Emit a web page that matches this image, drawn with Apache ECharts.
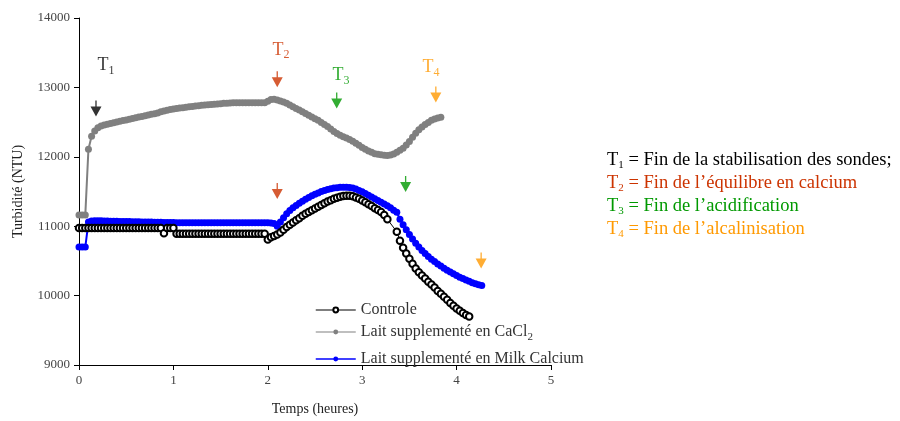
<!DOCTYPE html>
<html>
<head>
<meta charset="utf-8">
<script src="https://cdn.jsdelivr.net/npm/echarts@6/dist/echarts.min.js"></script>
<style>
  html, body { margin: 0; padding: 0; background: #fff; }
  #chart { width: 900px; height: 421px; }
</style>
</head>
<body>
<div id="chart"></div>
<script>
// pas d'echantillonnage : une mesure toutes les 2 minutes
var STEP_H = 2 / 60;

var xTicks = [0, 1, 2, 3, 4, 5];
var yTicks = [9000, 10000, 11000, 12000, 13000, 14000];

// Controle (null = pas de point, ligne continue)
var controle = [
  10975, 10975, 10975, 10975, 10975, 10975, 10975, 10975, 10975, 10975,
  10975, 10975, 10975, 10975, 10975, 10975, 10975, 10975, 10975, 10975,
  10975, 10975, 10975, 10975, 10975, 10975, 10975, 10900, 10975, 10975,
  10975, 10890, 10890, 10890, 10890, 10890, 10890, 10890, 10890, 10890,
  10890, 10890, 10890, 10890, 10890, 10890, 10890, 10890, 10890, 10890,
  10890, 10890, 10890, 10890, 10890, 10890, 10890, 10890, 10890, 10890,
  10810, 10840, 10860, 10880, 10910, 10950, 10990, 11020, 11055, 11085,
  11115, 11150, 11180, 11205, 11230, 11255, 11280, 11305, 11330, 11355,
  11375, 11395, 11410, 11425, 11435, 11440, 11440, 11430, 11415, 11395,
  11370, 11345, 11315, 11290, 11260, 11235, 11205, 11160, 11100, null,
  null, 10920, 10790, 10690, 10605, 10530, 10460, 10390, 10335, 10290,
  10245, 10200, 10160, 10115, 10065, 10025, 9985, 9940, 9895, 9855,
  9815, 9780, 9750, 9720, 9700
];

// Lait supplemente en CaCl2
var cacl2 = [
  11160, 11160, 11160, 12110, 12295, 12370, 12420, 12445, 12460, 12470,
  12480, 12490, 12500, 12512, 12522, 12532, 12542, 12552, 12562, 12572,
  12582, 12592, 12602, 12612, 12622, 12632, 12650, 12660, 12670, 12680,
  12688, 12695, 12702, 12708, 12714, 12720, 12726, 12731, 12736, 12741,
  12746, 12750, 12754, 12758, 12762, 12766, 12770, 12773, 12776, 12778,
  12778, 12778, 12778, 12778, 12778, 12778, 12778, 12778, 12778, 12778,
  12800, 12825, 12830, 12820, 12805, 12790, 12770, 12745, 12720, 12695,
  12675, 12650, 12625, 12600, 12575, 12550, 12525, 12495, 12465, 12435,
  12400, 12365, 12335, 12310, 12290, 12270, 12250, 12225, 12195, 12165,
  12135, 12110, 12085, 12065, 12045, 12035, 12028, 12022, 12020, 12025,
  12040, 12065, 12095, 12125, 12170, 12220, 12280, 12340, 12390, 12430,
  12465, 12495, 12525, 12545, 12560, 12570
];

// Lait supplemente en Milk Calcium
var milkCalcium = [
  10700, 10700, 10700, 11060, 11075, 11080, 11080, 11078, 11076, 11075,
  11073, 11072, 11070, 11069, 11068, 11067, 11066, 11065, 11064, 11063,
  11062, 11061, 11060, 11059, 11058, 11057, 11056, 11055, 11054, 11053,
  11052, 11050, 11050, 11050, 11050, 11050, 11050, 11050, 11050, 11050,
  11050, 11050, 11050, 11050, 11050, 11050, 11050, 11050, 11050, 11050,
  11050, 11050, 11050, 11050, 11050, 11050, 11050, 11050, 11050, 11050,
  11050, 11045, 11040, 11000, 11060, 11120, 11180, 11225, 11265, 11300,
  11330, 11360, 11390, 11415, 11440, 11460, 11480, 11500, 11515, 11530,
  11540, 11550, 11555, 11560, 11562, 11562, 11558, 11550, 11535, 11515,
  11495, 11470, 11445, 11420, 11395, 11370, 11345, 11320, 11295, 11265,
  11230, 11200, 11100, 11020, 10950, 10880, 10815, 10755, 10700, 10650,
  10605, 10565, 10525, 10490, 10455, 10425, 10395, 10365, 10340, 10315,
  10290, 10265, 10245, 10225, 10205, 10185, 10170, 10155, 10145
];

// fleches T1..T4 (haut) et fleches sur la courbe Milk Calcium (bas)
var arrowUpT = [0.18, 2.10, 2.73, 3.78];
var arrowUpV = [12696, 13119, 12811, 12897];
var arrowLowT = [2.10, 3.46, 4.26];
var arrowLowV = [11507, 11607, 10504];
var labelT = [0.286, 2.14, 2.775, 3.73];
var labelV = [13312, 13542, 13169, 13284];
var labelIdx = ['1', '2', '3', '4'];
var upColors = ['#000000', '#cc3300', '#009900', '#ff9900'];
var lowColors = ['#cc3300', '#009900', '#ff9900'];

var legendLines = [
  ['1', ' = Fin de la stabilisation des sondes;'],
  ['2', ' = Fin de l\u2019\u00e9quilibre en calcium'],
  ['3', ' = Fin de l\u2019acidification'],
  ['4', ' = Fin de l\u2019alcalinisation']
];

var FONT = '"Liberation Serif", "DejaVu Serif", serif';
var ARROW = 'path://M4.4,0 L5.6,0 L5.6,6 L10,6 L5,16 L0,6 L4.4,6 Z';

function toPts(vals) {
  return vals.map(function (v, i) { return [i * STEP_H, v]; });
}

var chart = echarts.init(document.getElementById('chart'));

var upArrows = arrowUpT.map(function (t, i) {
  return { value: [t, arrowUpV[i]], itemStyle: { color: upColors[i] } };
});
var lowArrows = arrowLowT.map(function (t, i) {
  return { value: [t, arrowLowV[i]], itemStyle: { color: lowColors[i] } };
});
var tLabels = labelT.map(function (t, i) {
  return {
    value: [t, labelV[i]],
    label: {
      formatter: '{t|T}{s|' + labelIdx[i] + '}',
      rich: {
        t: { fontFamily: FONT, fontSize: 18, color: upColors[i] },
        s: { fontFamily: FONT, fontSize: 12, color: upColors[i], padding: [10, 0, 0, 0] }
      }
    }
  };
});

var subRich = {
  a: { fontFamily: FONT, fontSize: 16, color: '#333' },
  s: { fontFamily: FONT, fontSize: 11, color: '#333', padding: [10, 0, 0, 0] }
};

function legendAt(name, top, lineColor) {
  return {
    data: [{ name: name, lineStyle: { color: lineColor, width: 1.5 } }],
    left: 310, top: top,
    itemWidth: 40, itemHeight: 6, itemGap: 4,
    textStyle: { fontFamily: FONT, fontSize: 16, color: '#333', rich: subRich },
    formatter: function (n) {
      if (n === 'Lait supplement\u00e9 en CaCl2') return '{a|Lait supplement\u00e9 en CaCl}{s|2}';
      return '{a|' + n + '}';
    }
  };
}

var textGraphics = legendLines.map(function (l, i) {
  return {
    type: 'text', left: 607, top: 151 + i * 23,
    style: {
      text: '{t|T}{s|' + l[0] + '}{t|' + l[1] + '}',
      rich: {
        t: { fontFamily: FONT, fontSize: 18.5, fill: upColors[i] },
        s: { fontFamily: FONT, fontSize: 11, fill: upColors[i], padding: [9, 0, 0, 0] }
      }
    }
  };
});

var option = {
  animation: false,
  backgroundColor: '#fff',
  grid: { left: 79, right: 349, top: 18, bottom: 54 },
  xAxis: {
    type: 'value', min: xTicks[0], max: xTicks[xTicks.length - 1], interval: 1,
    name: 'Temps (heures)', nameLocation: 'middle', nameGap: 37,
    nameTextStyle: { fontFamily: FONT, fontSize: 14, color: '#222' },
    axisLine: { lineStyle: { color: '#000', width: 1 } },
    axisTick: { length: 5, lineStyle: { color: '#000' } },
    axisLabel: { fontFamily: FONT, fontSize: 13, color: '#444', margin: 9 },
    splitLine: { show: false }
  },
  yAxis: {
    type: 'value', min: yTicks[0], max: yTicks[yTicks.length - 1], interval: 1000,
    name: 'Turbidit\u00e9 (NTU)', nameLocation: 'middle', nameGap: 54,
    nameTextStyle: { fontFamily: FONT, fontSize: 14, color: '#222' },
    axisLine: { show: true, lineStyle: { color: '#000', width: 1 } },
    axisTick: { show: true, length: 5, lineStyle: { color: '#000' } },
    axisLabel: {
      fontFamily: FONT, fontSize: 13, color: '#444', margin: 9,
      formatter: function (v) { return String(v); }
    },
    splitLine: { show: false }
  },
  legend: [
    legendAt('Controle', 297, '#555'),
    legendAt('Lait supplement\u00e9 en CaCl2', 319, '#aaa'),
    legendAt('Lait supplement\u00e9 en Milk Calcium', 346, '#0000ff')
  ],
  graphic: textGraphics,
  series: [
    {
      name: 'Lait supplement\u00e9 en CaCl2', type: 'line',
      data: toPts(cacl2),
      symbol: 'circle', symbolSize: 7, showAllSymbol: true,
      itemStyle: { color: '#808080' },
      lineStyle: { color: '#808080', width: 2 }
    },
    {
      name: 'Lait supplement\u00e9 en Milk Calcium', type: 'line',
      data: toPts(milkCalcium),
      symbol: 'circle', symbolSize: 7, showAllSymbol: true,
      itemStyle: { color: '#0000ff' },
      lineStyle: { color: '#0000ff', width: 2 }
    },
    {
      name: 'Controle', type: 'line',
      data: toPts(controle), connectNulls: true,
      symbol: 'emptyCircle', symbolSize: 6.5, showAllSymbol: true,
      itemStyle: { color: '#000', borderColor: '#000', borderWidth: 0.8 },
      lineStyle: { color: '#000', width: 1 }
    },
    {
      name: 'flechesHaut', type: 'scatter', data: upArrows,
      symbol: ARROW, symbolSize: [11, 16], silent: true
    },
    {
      name: 'flechesBas', type: 'scatter', data: lowArrows,
      symbol: ARROW, symbolSize: [11, 16], silent: true
    },
    {
      name: 'etiquettes', type: 'scatter', data: tLabels,
      symbolSize: 0, silent: true,
      label: { show: true, position: 'inside' }
    }
  ]
};

chart.setOption(option);
</script>
</body>
</html>
